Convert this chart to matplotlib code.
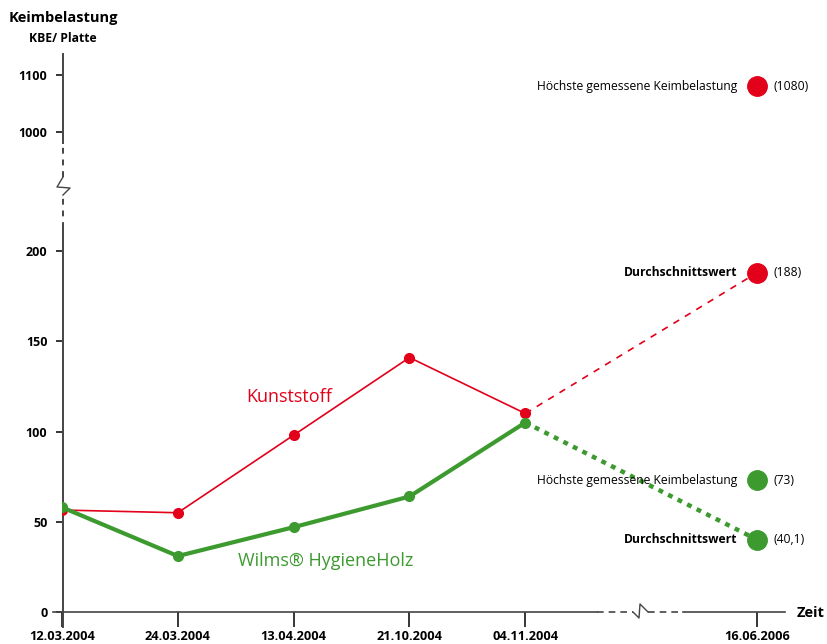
import numpy as np
import matplotlib.pyplot as plt

plt.rcParams['font.family'] = ['Open Sans', 'DejaVu Sans']

# Messwerte (KBE / Platte)
dates = ['12.03.2004', '24.03.2004', '13.04.2004', '21.10.2004', '04.11.2004', '16.06.2006']
x_pos = [0, 1, 2, 3, 4, 6]
kunststoff = [56.5, 55, 98, 141, 110]
holz = [58, 31, 47, 64, 105]
kunst_mittel = 188
kunst_max = 1080
holz_mittel = 40.1
holz_max = 73
y_ticks = [0, 50, 100, 150, 200, 1000, 1100]

red = '#e2001a'
green = '#3c9a2f'
axcol = '#444444'

W, H = 827, 644
fig = plt.figure(figsize=(W / 100, H / 100), dpi=100)
L, R, B, T = 62, 785, 612, 55  # axes box in pixels (from top)
ax = fig.add_axes([L / W, (H - B) / H, (R - L) / W, (B - T) / H])

# gebrochene y-Achse: unten 0..220 gestreckt, oben 1000.. gestaucht
brk_v = [-1000, 0, 220, 1000, 3000]
brk_p = [-1805, 0, 397, 480, 480 + 2000 * 0.57]


def fwd(v):
    return np.interp(v, brk_v, brk_p)


def inv(p):
    return np.interp(p, brk_p, brk_v)


ax.set_yscale('function', functions=(fwd, inv))
ax.set_ylim(0, 1135)
ax.set_xlim(0, (R - L) / 115.83)

for s in ax.spines.values():
    s.set_visible(False)


def pa(px, py):
    return (px - L) / (R - L), (B - py) / (B - T)


def line_px(xs, ys, **kw):
    pts = [pa(x, y) for x, y in zip(xs, ys)]
    ax.plot([p[0] for p in pts], [p[1] for p in pts], transform=ax.transAxes,
            clip_on=False, color=axcol, **kw)


# x-Achse mit Bruch
line_px([53, 597], [612, 612], lw=1.2)
line_px([597, 633], [612, 612], lw=1.2, ls=(0, (4, 3)))
line_px([633, 639, 640, 648], [612, 618, 604, 612], lw=1.0)
line_px([648, 683], [612, 612], lw=1.2, ls=(0, (4, 3)))
line_px([683, 785], [612, 612], lw=1.2)
# y-Achse mit Bruch
line_px([63, 63], [627, 228], lw=1.4)
line_px([63, 63], [228, 195], lw=1.4, ls=(0, (3, 3)))
line_px([63, 57, 70, 63], [177, 187, 188, 195], lw=1.0)
line_px([63, 63], [177, 143], lw=1.4, ls=(0, (3, 3)))
line_px([63, 63], [143, 54], lw=1.4)

ax.set_xticks(x_pos)
ax.set_xticklabels(dates, fontsize=9.2, fontweight='bold')
ax.set_yticks(y_ticks)
ax.set_yticklabels([str(t) for t in y_ticks], fontsize=9, fontweight='bold')
ax.yaxis.set_minor_locator(plt.NullLocator())
ax.tick_params(axis='x', direction='out', length=11, width=1.1, pad=2, color='black')
ax.tick_params(axis='y', direction='out', length=4.5, width=1.1, pad=6, color='black')

# Messreihen
ax.plot(x_pos[:5], kunststoff, color=red, lw=1.2, marker='o', ms=7, zorder=3)
ax.plot(x_pos[:5], holz, color=green, lw=3, marker='o', ms=7, zorder=4)
ax.plot([x_pos[4], x_pos[5]], [kunststoff[-1], kunst_mittel], color=red, lw=1.2,
        ls=(0, (4, 4)), zorder=3)
ax.plot([x_pos[4], x_pos[5]], [holz[-1], holz_mittel], color=green, lw=3.2,
        ls=(0, (1.1, 1.3)), zorder=3)

big = [(kunst_max, red, 'Höchste gemessene Keimbelastung', 'normal', f'({kunst_max})'),
       (kunst_mittel, red, 'Durchschnittswert', 'bold', f'({kunst_mittel})'),
       (holz_max, green, 'Höchste gemessene Keimbelastung', 'normal', f'({holz_max})'),
       (holz_mittel, green, 'Durchschnittswert', 'bold', '(40,1)')]
for v, c, txt, fw, lab in big:
    ax.plot(x_pos[5], v, 'o', color=c, ms=14, zorder=5, clip_on=False)
    ax.annotate(txt, (x_pos[5], v), xytext=(-14, 0), textcoords='offset points',
                ha='right', va='center', fontsize=8.7, fontweight=fw)
    ax.annotate(lab, (x_pos[5], v), xytext=(12, 0), textcoords='offset points',
                ha='left', va='center', fontsize=8.7)

ax.text(1.96, 119, 'Kunststoff', color=red, fontsize=13, ha='center', va='center')
ax.text(2.28, 28.5, 'Wilms® HygieneHolz', color=green, fontsize=13, ha='center',
        va='center')

fig.text(63 / W, 1 - 18 / H, 'Keimbelastung', fontsize=10.5, fontweight='bold',
         ha='center', va='center')
fig.text(63 / W, 1 - 38 / H, 'KBE/ Platte', fontsize=8.7, fontweight='bold',
         ha='center', va='center')
fig.text(797 / W, 1 - 613 / H, 'Zeit', fontsize=10.5, fontweight='bold',
         ha='left', va='center')

fig.savefig('out.png', dpi=100)
